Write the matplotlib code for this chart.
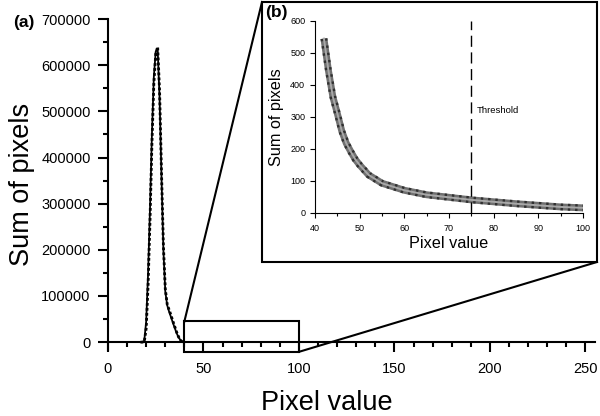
import numpy as np
import matplotlib.pyplot as plt
from matplotlib.patches import Rectangle
from matplotlib.lines import Line2D
from matplotlib.ticker import MultipleLocator

plt.rcParams['font.family'] = ['Liberation Sans', 'DejaVu Sans']

# histogram (a): pixel value vs sum of pixels, two overlapping series
pix = [17, 18, 19, 20, 21, 22, 23, 24, 25, 26, 27, 28, 29, 30, 31, 32, 33, 34, 35, 36, 37, 38, 39, 40]
sum_solid = [0, 0, 3000, 45000, 150000, 290000, 450000, 575000, 630000, 635000, 530000, 360000,
             200000, 110000, 80000, 66000, 54000, 42000, 30000, 19000, 10000, 4000, 0, 0]
sum_dotted = [0, 0, 1000, 30000, 125000, 265000, 430000, 560000, 625000, 640000, 545000, 370000,
              210000, 115000, 82000, 70000, 58000, 45000, 33000, 21000, 11000, 4000, 500, 0]

# zoomed tail (b)
tail_x = [42, 43, 44, 45, 46, 47, 48, 49, 50, 52, 55, 60, 65, 70, 75, 80, 85, 90, 95, 100]
tail_y = [545, 446, 363, 311, 256, 218, 192, 168, 150, 119, 93, 71, 57, 49, 41, 35, 29, 24, 19, 16]
threshold = 75

fig = plt.figure(figsize=(6, 4.16), dpi=100)

# ---- main axes
ax = fig.add_axes([0.18, 0.1587, 0.8117, 0.7953])
ax.plot(pix, sum_solid, color='black', lw=1.3)
ax.plot(pix, sum_dotted, color='black', lw=2.0, ls=(0, (1, 0.8)))
ax.set_xlim(0, 255)
ax.set_ylim(-17000, 700000)
ax.spines['top'].set_visible(False)
ax.spines['right'].set_visible(False)
ax.spines['bottom'].set_position(('data', 0))
for s in ['left', 'bottom']:
    ax.spines[s].set_linewidth(1.5)
ax.xaxis.set_major_locator(MultipleLocator(50))
ax.xaxis.set_minor_locator(MultipleLocator(10))
ax.yaxis.set_major_locator(MultipleLocator(100000))
ax.yaxis.set_minor_locator(MultipleLocator(50000))
ax.tick_params(which='major', length=7.5, width=1.5, labelsize=10.5, direction='out')
ax.tick_params(which='minor', length=3.8, width=1.5, direction='out')
ax.tick_params(axis='x', which='major', pad=7)
ax.tick_params(axis='y', which='major', pad=5)
ax.set_xlabel('Pixel value', fontsize=19.5)
ax.set_ylabel('Sum of pixels', fontsize=19.5)
ax.xaxis.set_label_coords(0.45, -0.12)
ax.yaxis.set_label_coords(-0.15, 0.5)
fig.text(0.022, 0.945, '(a)', fontsize=12.5, fontweight='bold', va='center')

# zoom rectangle in main axes
rx0, rx1, ry0, ry1 = 40, 100, -21000, 45000
ax.add_patch(Rectangle((rx0, ry0), rx1 - rx0, ry1 - ry0, fill=False, lw=1.5,
                       ec='black', clip_on=False, zorder=5))

# inset frame + connector lines (figure coords)
fx0, fx1 = 262 / 600, 597 / 600
fy0, fy1 = 1 - 262 / 416, 1 - 2 / 416
fig.patches.append(Rectangle((fx0, fy0), fx1 - fx0, fy1 - fy0, transform=fig.transFigure,
                             fill=False, lw=1.5, ec='black', fc='none', zorder=10))
p1 = fig.transFigure.inverted().transform(ax.transData.transform((rx0, ry1)))
p2 = fig.transFigure.inverted().transform(ax.transData.transform((rx1, ry0)))
fig.lines.append(Line2D([p1[0], fx0], [p1[1], fy1], transform=fig.transFigure, color='black', lw=1.5))
fig.lines.append(Line2D([p2[0], fx1], [p2[1], fy0], transform=fig.transFigure, color='black', lw=1.5))

# ---- inset axes
ins = fig.add_axes([315 / 600, 1 - 213 / 416, 268 / 600, 192 / 416])
ins.plot(tail_x, tail_y, color='#707070', lw=5.0, solid_capstyle='butt')
ins.plot(tail_x, tail_y, color='#202020', lw=5.0, ls=(0, (0.35, 0.7)), alpha=0.8)
ins.plot(tail_x, tail_y, color='#a8a8a8', lw=1.4)
ins.axvline(threshold, color='black', lw=1.0, ls=(0, (8, 4)))
ins.text(threshold + 1.3, 320, 'Threshold', fontsize=6.8, va='center')
ins.set_xlim(40, 100)
ins.set_ylim(0, 600)
ins.spines['top'].set_visible(False)
ins.spines['right'].set_visible(False)
ins.xaxis.set_major_locator(MultipleLocator(10))
ins.xaxis.set_minor_locator(MultipleLocator(5))
ins.yaxis.set_major_locator(MultipleLocator(100))
ins.tick_params(which='major', length=3.5, width=0.8, labelsize=6.5)
ins.tick_params(which='minor', length=2, width=0.8)
ins.tick_params(axis='x', which='major', pad=4.5)
ins.set_xlabel('Pixel value', fontsize=11.7, labelpad=2)
ins.set_ylabel('Sum of pixels', fontsize=11.7)
ins.yaxis.set_label_coords(-0.115, 0.5)
fig.text(265 / 600, 1 - 12 / 416, '(b)', fontsize=12.5, fontweight='bold', va='center')

fig.savefig('out.png', dpi=100)
